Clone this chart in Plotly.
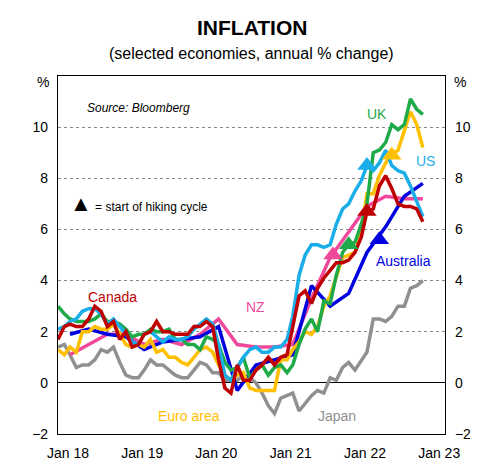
import plotly.graph_objects as go
import pandas as pd

months = pd.date_range("2018-01-01", "2022-12-01", freq="MS")
quarters = pd.date_range("2018-03-01", "2022-12-01", freq="3MS")

us = [2.1,2.2,2.4,2.5,2.8,2.9,2.9,2.7,2.3,2.5,2.2,1.9, 1.6,1.5,1.9,2.0,1.8,1.6,1.8,1.7,1.7,1.8,2.1,2.3,
      2.5,2.3,1.5,0.3,0.1,0.6,1.0,1.3,1.4,1.2,1.2,1.4, 1.4,1.7,2.6,4.2,5.0,5.4,5.4,5.3,5.4,6.2,6.8,7.0,
      7.5,7.9,8.5,8.3,8.6,9.1,8.5,8.3,8.2,7.7,7.1,6.5]
uk = [3.0,2.7,2.5,2.4,2.4,2.4,2.5,2.7,2.4,2.4,2.3,2.1, 1.8,1.9,1.9,2.1,2.0,2.0,2.1,1.7,1.7,1.5,1.5,1.3,
      1.8,1.7,1.5,0.8,0.5,0.6,1.0,0.2,0.5,0.7,0.3,0.6, 0.7,0.4,0.7,1.5,2.1,2.5,2.0,3.2,3.1,4.2,5.1,5.4,
      5.5,6.2,7.0,9.0,9.1,9.4,10.1,9.9,10.1,11.1,10.7,10.5]
euro = [1.3,1.1,1.4,1.2,2.0,2.0,2.2,2.1,2.1,2.3,1.9,1.5, 1.4,1.5,1.4,1.7,1.2,1.3,1.0,1.0,0.8,0.7,1.0,1.3,
        1.4,1.2,0.7,0.3,0.1,0.3,0.4,-0.2,-0.3,-0.3,-0.3,-0.3, 0.9,0.9,1.3,1.6,2.0,1.9,2.2,3.0,3.4,4.1,4.9,5.0,
        5.1,5.9,7.4,7.4,8.1,8.6,8.9,9.1,9.9,10.6,10.1,9.2]
canada = [1.7,2.2,2.3,2.2,2.2,2.5,3.0,2.8,2.2,2.4,1.7,2.0, 1.4,1.5,1.9,2.0,2.4,2.0,2.0,1.9,1.9,1.9,2.2,2.2,
          2.4,2.2,0.9,-0.2,-0.4,0.7,0.1,0.1,0.5,0.7,1.0,0.7, 1.0,1.1,2.2,3.4,3.6,3.1,3.7,4.1,4.4,4.7,4.7,4.8,
          5.1,5.7,6.7,6.8,7.7,8.1,7.6,7.0,6.9,6.9,6.8,6.3]
japan = [1.4,1.5,1.1,0.6,0.7,0.7,0.9,1.3,1.2,1.4,0.8,0.3, 0.2,0.2,0.5,0.9,0.7,0.7,0.5,0.3,0.2,0.2,0.5,0.8,
         0.7,0.4,0.4,0.1,0.1,0.1,0.3,0.2,0.0,-0.4,-0.9,-1.2, -0.6,-0.5,-0.4,-1.1,-0.8,-0.5,-0.3,-0.4,0.2,0.1,0.6,0.8,
         0.5,0.9,1.2,2.5,2.5,2.4,2.6,3.0,3.0,3.7,3.8,4.0]
australia = [1.9,2.1,1.9,1.8, 1.3,1.6,1.7,1.8, 2.2,-0.3,0.7,0.9, 1.1,3.8,3.0,3.5, 5.1,6.1,7.3,7.8]
nz = [1.1,1.5,1.9,1.9, 1.5,1.7,1.5,1.9, 2.5,1.5,1.4,1.4, 1.5,3.3,4.9,5.9, 6.9,7.3,7.2,7.2]

hike_dates = ["2021-09-15","2021-12-01","2022-03-01","2022-03-01","2022-05-01","2022-07-01"]
hike_vals = [5.0,5.4,8.5,6.7,5.6,8.9]
hike_colors = ["#F0489A","#1FAA4A","#1AAEE8","#C00000","#0000E0","#FFC000"]

fig = go.Figure()
series = [
    (months, japan, "#909090"),
    (quarters, nz, "#F0489A"),
    (quarters, australia, "#0000E0"),
    (months, euro, "#FFC000"),
    (months, uk, "#1FAA4A"),
    (months, us, "#1AAEE8"),
    (months, canada, "#C00000"),
]
for x, y, c in series:
    fig.add_trace(go.Scatter(x=x, y=y, mode="lines", line=dict(color=c, width=3.5)))
fig.add_trace(go.Scatter(x=hike_dates, y=hike_vals, mode="markers",
                         marker=dict(symbol="triangle-up", size=17, color=hike_colors)))

def P(px, py):
    return (px - 50) / 387, (426 - py) / 358

anns = [
    ("<i>Source: Bloomberg</i>", 77, 100, "black", 12),
    ("<span style='font-size:22px'>▲</span> = start of hiking cycle", 60, 195, "black", 12),
    ("Canada", 78, 289, "#C00000", 14),
    ("NZ", 236, 299, "#F0489A", 14),
    ("Euro area", 148, 408, "#FFC000", 14),
    ("Japan", 308, 408, "#909090", 14),
    ("UK", 357, 106, "#1FAA4A", 14),
    ("US", 406, 153, "#1AAEE8", 14),
    ("Australia", 366, 253, "#0000E0", 14),
]
for t, px, py, c, s in anns:
    x, y = P(px, py)
    fig.add_annotation(text=t, x=x, y=y, xref="paper", yref="paper", showarrow=False,
                       xanchor="left", yanchor="middle", font=dict(color=c, size=s))
for xp in (-0.06, 1.06):
    fig.add_annotation(text="%", x=xp, y=P(0, 74)[1], xref="paper", yref="paper", showarrow=False,
                       yanchor="middle", font=dict(size=14, color="black"))
fig.add_annotation(text="<b>INFLATION</b>", x=0.5, y=P(0, 20)[1], xref="paper", yref="paper",
                   showarrow=False, yanchor="middle", font=dict(size=21))
fig.add_annotation(text="(selected economies, annual % change)", x=0.5, y=P(0, 46)[1], xref="paper",
                   yref="paper", showarrow=False, yanchor="middle", font=dict(size=16))

fig.add_trace(go.Scatter(x=["2018-01-01"], y=[0], yaxis="y2", mode="markers", marker=dict(opacity=0),
                         hoverinfo="skip"))

axis_y = dict(range=[-2, 12], tickvals=[-2,0,2,4,6,8,10], ticks="", showgrid=True,
              gridcolor="#888", griddash="dot", gridwidth=1, zeroline=True, zerolinecolor="black",
              zerolinewidth=1.2, showline=True, linecolor="black", linewidth=1.2,
              tickfont=dict(size=14, color="black"), ticklabelstandoff=6)
fig.update_layout(
    width=485, height=474, showlegend=False, plot_bgcolor="white", paper_bgcolor="white",
    margin=dict(l=50, r=48, t=68, b=48),
    font=dict(family="Liberation Sans, Arial", color="black"),
    xaxis=dict(range=["2018-01-01", "2023-03-20"], tickvals=["2018-01-01","2019-01-01","2020-01-01","2021-01-01","2022-01-01","2023-01-01"],
               ticktext=["Jan 18","Jan 19","Jan 20","Jan 21","Jan 22","Jan 23"], showgrid=False,
               showline=True, linecolor="black", linewidth=1.2, mirror=True, ticks="",
               tickfont=dict(size=14, color="black"), ticklabelshift=10, ticklabelstandoff=6),
    yaxis=axis_y,
    yaxis2=dict(axis_y, overlaying="y", side="right", showgrid=False, zeroline=False),
)
fig.write_html("out.html")
